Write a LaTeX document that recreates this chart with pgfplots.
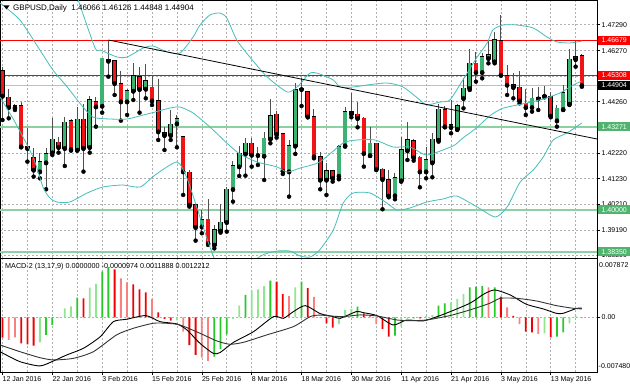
\documentclass[border=0pt]{standalone}
\usepackage{fontspec}
\setmainfont{Liberation Sans}
\usepackage{pgfplots}
\usepackage{pgfplotstable}
\pgfplotsset{compat=1.18}
\definecolor{gridc}{RGB}{175,175,175}
\definecolor{bullc}{RGB}{60,179,113}
\definecolor{bearc}{RGB}{240,20,20}
\definecolor{wickc}{RGB}{80,80,80}
\definecolor{bandc}{RGB}{70,190,185}
\definecolor{lvlg}{RGB}{140,210,160}
\definecolor{boxg}{RGB}{80,180,110}
\definecolor{hg}{RGB}{40,200,40}
\definecolor{hlg}{RGB}{144,230,144}
\definecolor{hr}{RGB}{240,0,0}
\definecolor{hlr}{RGB}{250,128,128}
\definecolor{silverc}{RGB}{190,190,190}

\pgfplotstableread{
i O H L C
2 1.44026 1.44170 1.43934 1.44091
6 1.41505 1.42227 1.41242 1.41899
7 1.41859 1.42424 1.40809 1.42201
8 1.42253 1.43606 1.42161 1.42778
10 1.42424 1.43671 1.41728 1.43448
12 1.42358 1.44065 1.42332 1.43566
14 1.42463 1.44485 1.42253 1.44328
16 1.44091 1.45990 1.43829 1.45969
20 1.44262 1.44760 1.43737 1.44682
21 1.44682 1.45772 1.44328 1.45273
23 1.44761 1.45733 1.44393 1.45089
27 1.42936 1.43934 1.42752 1.43369
28 1.43396 1.43737 1.42463 1.43579
32 1.39338 1.39995 1.39076 1.39601
34 1.38616 1.39404 1.38480 1.39207
35 1.39168 1.40231 1.39102 1.39509
36 1.39509 1.40914 1.39141 1.40809
37 1.40809 1.41938 1.40323 1.41728
38 1.41702 1.42516 1.41334 1.42227
39 1.42201 1.42818 1.41347 1.42621
42 1.42122 1.43080 1.41177 1.42818
43 1.42792 1.44354 1.42621 1.43698
46 1.41505 1.42752 1.40520 1.42516
47 1.42516 1.45011 1.42201 1.44722
52 1.41177 1.41833 1.40586 1.41531
54 1.41334 1.42555 1.41203 1.42490
55 1.42529 1.44065 1.42490 1.43868
59 1.42148 1.43277 1.42122 1.42621
63 1.40559 1.41439 1.40415 1.41268
64 1.41150 1.42883 1.41111 1.42358
65 1.42332 1.43474 1.41964 1.42752
68 1.41505 1.42463 1.41242 1.41964
69 1.41859 1.43015 1.41282 1.42778
70 1.42752 1.44170 1.42686 1.43960
73 1.43185 1.44157 1.43146 1.44091
74 1.44393 1.45181 1.43999 1.44787
75 1.44787 1.46324 1.44722 1.45772
77 1.45418 1.46192 1.45181 1.46035
78 1.45969 1.46691 1.45772 1.46100
79 1.45838 1.47019 1.45772 1.46691
85 1.44039 1.44787 1.43868 1.44393
86 1.44380 1.44853 1.43934 1.44433
89 1.43514 1.44131 1.43277 1.43999
90 1.43960 1.44919 1.43934 1.44617
91 1.44170 1.46324 1.44131 1.45930
92 1.45930 1.46691 1.45641 1.46035
}\bull

\pgfplotstableread{
i O H L C
0 1.45483 1.45614 1.43540 1.44485
1 1.44433 1.44748 1.43606 1.44039
3 1.44091 1.44262 1.42463 1.42490
4 1.42503 1.43212 1.41899 1.42424
5 1.42056 1.42424 1.41308 1.41570
9 1.42660 1.42883 1.42253 1.42463
11 1.43514 1.43566 1.42332 1.42385
13 1.43566 1.44170 1.41505 1.42424
15 1.44262 1.44459 1.43277 1.44065
17 1.45930 1.46665 1.45247 1.45864
18 1.45864 1.45880 1.44525 1.44984
19 1.44958 1.45483 1.43514 1.44262
22 1.45247 1.45641 1.43829 1.44748
24 1.44827 1.45312 1.44131 1.44301
25 1.44288 1.45142 1.42752 1.43080
26 1.43041 1.43277 1.42358 1.42936
29 1.42883 1.42910 1.40586 1.41505
30 1.41479 1.41570 1.40126 1.40192
31 1.40192 1.40257 1.38787 1.39312
33 1.39627 1.40428 1.38616 1.38682
40 1.42621 1.42818 1.41702 1.42161
41 1.42161 1.42490 1.41767 1.42148
44 1.43763 1.43894 1.42844 1.42975
45 1.42988 1.43015 1.41413 1.41531
48 1.44761 1.45181 1.44091 1.44748
49 1.44656 1.44682 1.43645 1.43671
50 1.43671 1.43973 1.42030 1.42096
51 1.42096 1.42266 1.40809 1.41177
53 1.41531 1.41570 1.41111 1.41242
56 1.43868 1.44590 1.43645 1.43776
57 1.43763 1.44262 1.43251 1.43606
58 1.43606 1.43645 1.41702 1.42227
60 1.42621 1.42647 1.41570 1.41597
61 1.41597 1.41636 1.40021 1.41203
62 1.41177 1.41570 1.40494 1.40546
66 1.42713 1.42778 1.41938 1.42056
67 1.42069 1.42122 1.40888 1.41505
71 1.43934 1.44091 1.43251 1.43277
72 1.43343 1.44328 1.43015 1.43251
76 1.45772 1.46232 1.45050 1.45418
80 1.46665 1.47676 1.45290 1.45312
81 1.45286 1.45706 1.44525 1.44919
82 1.44919 1.45378 1.44393 1.44827
83 1.44827 1.45470 1.44196 1.44301
84 1.44196 1.44748 1.43737 1.44039
87 1.44498 1.44879 1.44433 1.44485
88 1.44459 1.44656 1.43645 1.43698
93 1.46066 1.46126 1.44848 1.44904
}\bear

\pgfplotstableread{
i v
11.6 1.48661
14.8 1.46415
15.7 1.46297
18.4 1.46021
20.0 1.46021
22.6 1.46376
24.2 1.46454
26.4 1.46218
28.5 1.46179
30.6 1.46809
31.7 1.47282
33.3 1.47676
34.9 1.47755
36.0 1.47558
37.6 1.46691
39.7 1.46021
42.5 1.45233
45.7 1.44642
47.3 1.44839
49.4 1.45391
50.9 1.45351
53.1 1.45115
54.2 1.44839
56.3 1.44839
58.5 1.44918
61.7 1.44997
64.3 1.44839
67.0 1.44327
68.1 1.44130
70.2 1.44248
71.8 1.44327
73.9 1.45115
76.2 1.46021
77.8 1.46573
78.7 1.47085
80.3 1.47282
82.6 1.47282
85.2 1.47164
87.4 1.46809
89.0 1.46612
91.1 1.46573
93.0 1.46651
}\bbup

\pgfplotstableread{
i v
-0.4 1.48149
2.8 1.47479
6.0 1.46297
8.1 1.45509
10.4 1.44839
12.4 1.44209
14.5 1.43657
17.3 1.43578
20.0 1.43578
22.6 1.43736
24.5 1.43854
26.9 1.44012
28.5 1.44051
30.6 1.43815
33.3 1.43263
36.0 1.42633
38.1 1.42199
40.9 1.41884
44.1 1.41687
45.7 1.41490
47.8 1.41648
50.9 1.41884
54.7 1.42633
56.9 1.42751
59.8 1.42751
62.7 1.42475
65.4 1.42475
68.0 1.42160
70.7 1.42357
72.6 1.42554
73.9 1.42830
76.2 1.43250
78.2 1.43700
80.3 1.44000
84.2 1.44209
86.8 1.44366
89.5 1.44603
91.6 1.44918
93.0 1.45075
}\bbmid

\pgfplotstableread{
i v
-0.4 1.44445
2.0 1.43460
4.9 1.42081
6.5 1.40899
7.6 1.40466
8.7 1.40308
10.8 1.40308
13.6 1.40663
16.1 1.40899
19.3 1.40978
22.1 1.40899
24.5 1.41372
28.0 1.41884
29.6 1.41254
31.7 1.39717
33.3 1.38535
34.9 1.37708
38.9 1.37629
41.0 1.38102
42.1 1.38259
44.1 1.38377
46.1 1.38377
47.8 1.38180
49.4 1.38141
50.9 1.38417
53.1 1.39205
54.7 1.40269
56.3 1.40663
59.0 1.40663
61.7 1.40269
63.3 1.39993
65.4 1.40072
68.1 1.40308
70.7 1.40426
72.9 1.40544
76.2 1.40111
79.1 1.39717
81.0 1.40111
83.1 1.41096
85.2 1.41569
86.8 1.42081
88.4 1.42751
90.6 1.43027
93.0 1.43421
}\bblow

\pgfplotstableread{
i v
7 -0.00239
8 -0.00104
12 0.00265
16 0.00617
17 0.00677
34 -0.00533
35 -0.00429
36 -0.00230
39 0.00302
43 0.00495
48 0.00482
57 0.00143
63 -0.00249
66 -0.00015
70 0.00157
71 0.00189
75 0.00406
76 0.00414
77 0.00423
79 0.00406
89 -0.00262
90 -0.00203
}\hgreen

\pgfplotstableread{
i v
6 -0.00338
9 -0.00010
10 0.00122
11 0.00149
14 0.00400
15 0.00451
28 -0.00040
37 -0.00020
38 0.00157
40 0.00365
41 0.00379
42 0.00423
47 0.00406
54 -0.00091
55 0.00099
56 0.00112
64 -0.00127
65 -0.00020
68 0.00020
69 0.00030
72 0.00203
73 0.00248
74 0.00315
87 -0.00216
91 -0.00081
92 0.00020
}\hlgreen

\pgfplotstableread{
i v
0 -0.00276
3 -0.00352
4 -0.00365
5 -0.00384
13 0.00257
18 0.00649
21 0.00447
22 0.00379
23 0.00338
25 0.00068
26 -0.00020
27 -0.00046
30 -0.00375
31 -0.00510
44 0.00482
45 0.00315
49 0.00396
52 -0.00081
53 -0.00141
58 0.00054
61 -0.00158
62 -0.00262
67 -0.00015
80 0.00279
82 0.00020
84 -0.00195
85 -0.00203
88 -0.00271
}\hred

\pgfplotstableread{
i v
1 -0.00307
2 -0.00271
19 0.00528
20 0.00474
24 0.00248
29 -0.00195
32 -0.00547
33 -0.00591
46 0.00288
50 0.00275
51 -0.00010
59 0.00020
60 -0.00091
78 0.00406
81 0.00135
83 -0.00091
86 -0.00226
93 -0.00010
}\hlred

\pgfplotstableread{
i v
-0.4 -0.00465
2.8 -0.00600
6.0 -0.00658
8.2 -0.00590
10.3 -0.00510
13.0 -0.00419
15.7 -0.00262
17.8 -0.00059
19.9 -0.00027
23.0 0.00023
25.3 -0.00059
28.0 -0.00090
29.6 -0.00171
31.7 -0.00352
33.8 -0.00487
34.9 -0.00478
37.1 -0.00338
40.3 -0.00194
43.5 0.00009
45.1 -0.00014
46.7 0.00077
48.6 0.00158
51.0 0.00050
53.1 0.00009
54.2 -0.00014
56.8 0.00077
57.9 0.00063
60.1 0.00023
62.7 -0.00104
64.9 -0.00036
67.5 -0.00050
70.8 0.00041
75.0 0.00189
77.2 0.00311
79.0 0.00370
81.5 0.00302
84.1 0.00176
86.8 0.00113
88.9 0.00054
90.0 0.00054
92.2 0.00122
93.0 0.00122
}\macdA

\pgfplotstableread{
i v
-0.4 -0.00374
2.8 -0.00465
6.0 -0.00546
8.2 -0.00577
11.4 -0.00555
14.6 -0.00465
18.3 -0.00239
21.0 -0.00149
24.2 -0.00081
26.4 -0.00081
28.5 -0.00104
31.7 -0.00216
34.4 -0.00320
36.5 -0.00365
38.7 -0.00338
42.4 -0.00239
46.7 -0.00126
49.4 0.00010
51.0 0.00030
52.6 0.00018
54.7 0.00009
57.4 0.00032
60.1 0.00018
63.3 -0.00036
65.4 -0.00045
68.1 -0.00036
71.8 0.00023
75.0 0.00099
78.2 0.00189
79.9 0.00257
82.5 0.00257
85.7 0.00221
88.9 0.00158
91.6 0.00122
93.0 0.00113
}\macdB

\pgfplotsset{
  ebase/.style={only marks, mark=none, forget plot,
    error bars/y dir=plus, error bars/y explicit, error bars/error mark=none},
}

\begin{document}
\begin{tikzpicture}[x=1pt,y=1pt]
\path[use as bounding box] (0,0) rectangle (630,388);
\fill[white] (0,0) rectangle (630,388);

\begin{axis}[
  at={(0pt,130pt)}, anchor=south west, scale only axis,
  width=597pt, height=258pt,
  xmin=-0.40, xmax=95.43, ymin=1.38102, ymax=1.48267,
  clip mode=individual, scaled y ticks=false,
  axis line style={black, line width=0.8pt},
  xtick={0,8,...,88}, minor xtick={4,12,...,92}, xticklabels={},
  xmajorgrids, xminorgrids,
  major x tick style={draw=none}, minor x tick style={draw=none},
  ytick={1.4729,1.4627,1.4526,1.4426,1.4324,1.4222,1.4123,1.4021,1.3919,1.3820},
  yticklabels={1.47290,1.46270,,1.44260,,1.42220,1.41230,1.40210,1.39190,1.38200},
  ytick pos=right, yticklabel pos=right, ymajorgrids,
  tick align=outside, major tick length=3pt,
  major y tick style={black, line width=0.6pt},
  yticklabel style={font=\fontsize{7}{8}\selectfont, inner xsep=1.5pt},
  major grid style={gridc, dash pattern=on 2pt off 2pt, line width=0.6pt},
  minor grid style={gridc, dash pattern=on 2pt off 2pt, line width=0.6pt},
]
% horizontal levels
\addplot[red, line width=0.9pt, forget plot] coordinates {(-1,1.46679) (96,1.46679)};
\addplot[red, line width=0.9pt, forget plot] coordinates {(-1,1.45308) (96,1.45308)};
\addplot[silverc, line width=0.9pt, forget plot] coordinates {(-1,1.44904) (96,1.44904)};
\addplot[lvlg, line width=1.6pt, forget plot] coordinates {(-1,1.43271) (96,1.43271)};
\addplot[lvlg, line width=1.6pt, forget plot] coordinates {(-1,1.40000) (96,1.40000)};
\addplot[lvlg, line width=1.6pt, forget plot] coordinates {(-1,1.38350) (96,1.38350)};
% wicks
\addplot[ebase, error bars/error bar style={draw=wickc, line width=1pt}]
  table[x=i, y=L, y error expr=\thisrow{H}-\thisrow{L}] {\bull};
\addplot[ebase, error bars/error bar style={draw=wickc, line width=1pt}]
  table[x=i, y=L, y error expr=\thisrow{H}-\thisrow{L}] {\bear};
% bodies
\addplot[ebase, error bars/error bar style={draw=black, line width=4.6pt}]
  table[x=i, y expr=\thisrow{O}-0.00022, y error expr=\thisrow{C}-\thisrow{O}+0.00044] {\bull};
\addplot[ebase, error bars/error bar style={draw=bullc, line width=3.4pt}]
  table[x=i, y=O, y error expr=\thisrow{C}-\thisrow{O}] {\bull};
\addplot[ebase, error bars/error bar style={draw=black, line width=4.6pt}]
  table[x=i, y expr=\thisrow{C}-0.00022, y error expr=\thisrow{O}-\thisrow{C}+0.00044] {\bear};
\addplot[ebase, error bars/error bar style={draw=bearc, line width=3.4pt}]
  table[x=i, y=C, y error expr=\thisrow{O}-\thisrow{C}] {\bear};
% bollinger
\addplot[bandc, line width=0.8pt, smooth, tension=0.4] table[x=i, y=v] {\bbup};
\addplot[bandc, line width=0.8pt, smooth, tension=0.4] table[x=i, y=v] {\bbmid};
\addplot[bandc, line width=0.8pt, smooth, tension=0.4] table[x=i, y=v] {\bblow};
% trendline
\addplot[black, line width=0.8pt] coordinates {(17,1.46691) (95.43,1.42790)};
\coordinate (B1) at (axis cs:95.43,1.46679);
\coordinate (B2) at (axis cs:95.43,1.45308);
\coordinate (B3) at (axis cs:95.43,1.44904);
\coordinate (B4) at (axis cs:95.43,1.43271);
\coordinate (B5) at (axis cs:95.43,1.40000);
\coordinate (B6) at (axis cs:95.43,1.38350);
\end{axis}

\begin{axis}[
  at={(0pt,16pt)}, anchor=south west, scale only axis,
  width=597pt, height=113.5pt,
  xmin=-0.40, xmax=95.43, ymin=-0.007401, ymax=0.007956,
  clip mode=individual, scaled y ticks=false,
  axis line style={black, line width=0.8pt},
  xtick={0,8,...,88}, minor xtick={4,12,...,92},
  xticklabels={12 Jan 2016,22 Jan 2016,3 Feb 2016,15 Feb 2016,25 Feb 2016,8 Mar 2016,18 Mar 2016,30 Mar 2016,11 Apr 2016,21 Apr 2016,3 May 2016,13 May 2016},
  xmajorgrids, xminorgrids, xtick pos=bottom,
  tick align=outside, major tick length=3pt, minor tick length=0pt,
  major x tick style={black, line width=0.6pt},
  xticklabel style={anchor=north west, inner xsep=0pt, inner ysep=1pt, font=\fontsize{7}{8}\selectfont},
  ytick={0}, yticklabels={0.00}, ytick pos=right, yticklabel pos=right, ymajorgrids,
  major y tick style={black, line width=0.6pt},
  yticklabel style={font=\fontsize{7}{8}\selectfont, inner xsep=1.5pt},
  major grid style={gridc, dash pattern=on 2pt off 2pt, line width=0.6pt},
  minor grid style={gridc, dash pattern=on 2pt off 2pt, line width=0.6pt},
]
\addplot[ybar, bar width=1.8pt, bar shift=0pt, draw=none, fill=hg] table[x=i, y=v] {\hgreen};
\addplot[ybar, bar width=1.8pt, bar shift=0pt, draw=none, fill=hlg] table[x=i, y=v] {\hlgreen};
\addplot[ybar, bar width=1.8pt, bar shift=0pt, draw=none, fill=hr] table[x=i, y=v] {\hred};
\addplot[ybar, bar width=1.8pt, bar shift=0pt, draw=none, fill=hlr] table[x=i, y=v] {\hlred};
\addplot[black, line width=0.9pt, smooth, tension=0.4] table[x=i, y=v] {\macdA};
\addplot[black!80, line width=0.9pt, smooth, tension=0.4] table[x=i, y=v] {\macdB};
\end{axis}

% price boxes
\tikzset{pbox/.style={anchor=west, text=white, minimum width=32pt, minimum height=9pt, inner xsep=1pt, inner ysep=0pt, font=\fontsize{7}{8}\selectfont}}
\node[pbox, fill=red] at ([xshift=1pt]B1) {1.46679};
\node[pbox, fill=red] at ([xshift=1pt]B2) {1.45308};
\node[pbox, fill=black] at ([xshift=1pt]B3) {1.44904};
\node[pbox, fill=boxg] at ([xshift=1pt]B4) {1.43271};
\node[pbox, fill=boxg] at ([xshift=1pt]B5) {1.40000};
\node[pbox, fill=boxg] at ([xshift=1pt]B6) {1.38350};

% titles
\fill[black] (3.5,382.5) -- (9.5,382.5) -- (6.5,378.5) -- cycle;
\node[anchor=west, inner sep=0pt, font=\fontsize{8}{9}\selectfont] at (13,380) {GBPUSD,Daily\ \ 1.46066 1.46126 1.44848 1.44904};
\node[anchor=west, inner sep=0pt, font=\fontsize{7.2}{8}\selectfont] at (5,121) {MACD-2 (13,17,9) 0.0000000 -0.0000974 0.0011888 0.0012212};
\node[anchor=west, inner sep=0pt, font=\fontsize{7}{8}\selectfont] at (599,123) {0.007872};
\node[anchor=west, inner sep=0pt, font=\fontsize{7}{8}\selectfont] at (598.5,22) {-0.007480};
\end{tikzpicture}
\end{document}
